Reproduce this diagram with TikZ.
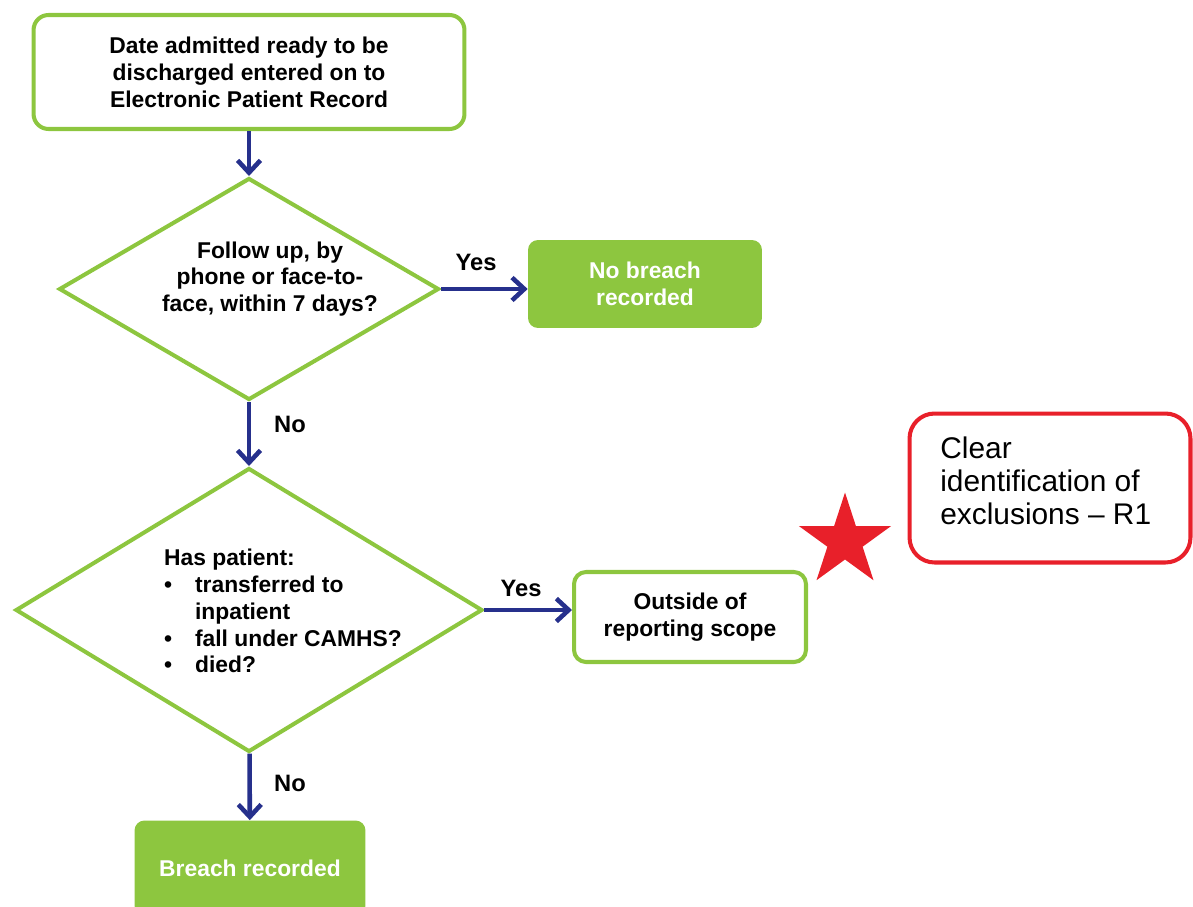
\documentclass[tikz,border=0pt]{standalone}
\usepackage{fontspec}
\setmainfont{Liberation Sans}
\usetikzlibrary{shapes.geometric,arrows.meta}

\definecolor{flowgreen}{RGB}{141,198,63}
\definecolor{flowblue}{RGB}{38,48,140}
\definecolor{flowred}{RGB}{232,32,42}

\tikzset{
  txt/.style={font=\bfseries\fontsize{13}{15.3}\selectfont, align=center, inner sep=0pt},
  stepbox/.style={txt, draw=flowgreen, line width=2.3pt, rounded corners=0.3cm},
  endbox/.style={txt, fill=flowgreen, text=white, rounded corners=0.2cm},
  decision/.style={diamond, draw=flowgreen, line width=2.3pt, inner sep=0pt},
  flow/.style={draw=flowblue, line width=2.6pt, -{Straight Barb[length=7pt,width=13pt]}},
  answer/.style={font=\bfseries\fontsize{13.5}{16}\selectfont}
}

\begin{document}
\begin{tikzpicture}[x=0.02cm, y=-0.02cm]
  \useasboundingbox (0,0) rectangle (1193,906);

  \node[stepbox, minimum width=8.62cm, minimum height=2.28cm] (start) at (249,72)
    {Date admitted ready to be\\discharged entered on to\\Electronic Patient Record};

  \node[decision, minimum width=7.6cm, minimum height=4.44cm] (q1) at (249,289) {};
  \node[txt] (q1txt) at (270,279) {Follow up, by\\phone or face-to-\\face, within 7 days?};

  \node[endbox, minimum width=4.68cm, minimum height=1.76cm] (nobreach) at (645,284)
    {No breach\\recorded};

  \node[decision, minimum width=9.34cm, minimum height=5.68cm] (q2) at (249,610) {};
  \node[txt, align=left] (q2txt) at (283,611)
    {Has patient:\\
     \makebox[0.62cm][l]{\textbullet}transferred to\\
     \hspace*{0.62cm}inpatient\\
     \makebox[0.62cm][l]{\textbullet}fall under CAMHS?\\
     \makebox[0.62cm][l]{\textbullet}died?};

  \node[stepbox, rounded corners=0.24cm, minimum width=4.64cm, minimum height=1.8cm] (outside) at (690,617)
    {Outside of\\reporting scope};

  \node[star, star points=5, star point ratio=2.618, fill=flowred, inner sep=0pt, minimum size=1.94cm] (mark) at (845,541) {};

  \node[draw=flowred, line width=2.3pt, rounded corners=0.5cm, minimum width=5.62cm, minimum height=2.98cm] (excl) at (1050,488) {};
  \node[anchor=west, align=left, inner sep=0pt, font=\fontsize{17}{18.7}\selectfont] (excltxt) at (940,481)
    {Clear\\identification of\\exclusions -- R1};

  \node[endbox, minimum width=4.62cm, minimum height=1.9cm] (breach) at (250,868) {Breach recorded};

  \draw[flow] (start) -- (q1);
  \draw[flow] (q1.east) -- (q1.east -| nobreach.west);
  \draw[flow] (q1) -- (q2);
  \draw[flow] (q2.east) -- (q2.east -| outside.west);
  \draw[flow] (q2) -- (breach);

  \node[answer] (yes1) at (476,262) {Yes};
  \node[answer] (no1) at (290,424) {No};
  \node[answer] (yes2) at (521,588) {Yes};
  \node[answer] (no2) at (290,783) {No};
\end{tikzpicture}
\end{document}
